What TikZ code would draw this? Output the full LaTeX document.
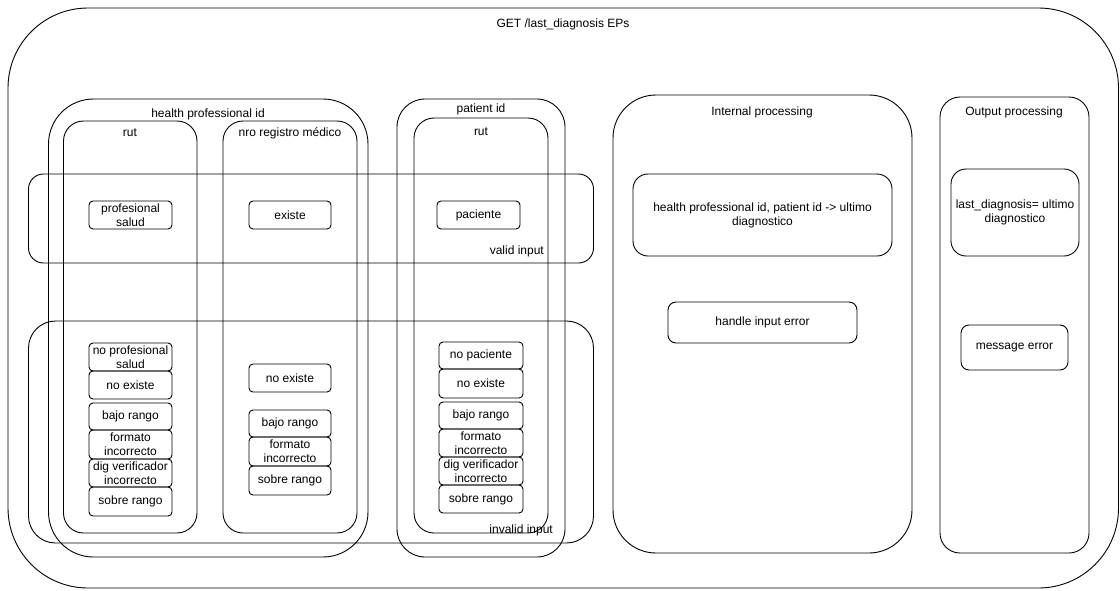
\documentclass[tikz,border=0pt]{standalone}
\usepackage{fontspec}
\setmainfont{Liberation Sans}
\newcommand\rbox[7]{%
  \node[box, rounded corners=#6, minimum width={#4-#2}, minimum height={#5-#3}] (#1) at ({(#2+#4)/2},{(#3+#5)/2}) {#7};}
\begin{document}
\begin{tikzpicture}[x=1pt,y=-1pt,
  every node/.style={font=\fontsize{12}{14}\selectfont, inner sep=0pt, align=center},
  box/.style={draw, line width=0.9pt},
  lbl/.style={}]
\useasboundingbox (0,0) rectangle (1120,590);
% outer
\rbox{outer}{8}{8}{1118.5}{588}{80}{}
\node[lbl] (title) at (563,24) {GET /last\_diagnosis EPs};
% health professional id
\rbox{hp}{48.5}{99}{368}{557}{45}{}
\node[lbl] (hpl) at (208,114) {health professional id};
\rbox{hprut}{63.5}{121}{197}{533}{20}{}
\node[lbl] (hprutl) at (130,133) {rut};
\rbox{nro}{223}{121}{357}{533}{20}{}
\node[lbl] (nrol) at (290,133) {nro registro médico};
% patient id
\rbox{pat}{397}{99}{565}{557}{28}{}
\node[lbl] (patl) at (481,109) {patient id};
\rbox{patrut}{414}{118}{548}{533}{20}{}
\node[lbl] (patrutl) at (481,132) {rut};
% valid / invalid input
\rbox{valid}{28.5}{174}{593.5}{263}{15}{}
\node[lbl, anchor=east] (validl) at (544,251) {valid input};
\rbox{invalid}{28.5}{321}{593.5}{543}{27}{}
\node[lbl, anchor=east] (invalidl) at (553,530) {invalid input};
% valid items
\rbox{ps}{89}{201}{172}{229}{4}{profesional\\salud}
\rbox{ex}{249}{201}{331}{229}{4}{existe}
\rbox{pac}{437}{201}{520}{229}{4}{paciente}
% hp rut invalid items
\rbox{a1}{89}{343}{172}{371}{4}{no profesional\\salud}
\rbox{a2}{89}{371}{172}{399}{4}{no existe}
\rbox{a3}{89}{403}{172}{430}{4}{bajo rango}
\rbox{a4}{89}{430}{172}{459}{4}{formato\\incorrecto}
\rbox{a5}{89}{459}{172}{487}{4}{dig verificador\\incorrecto}
\rbox{a6}{89}{487}{172}{516}{4}{sobre rango}
% nro invalid items
\rbox{b1}{249}{364}{331}{392}{4}{no existe}
\rbox{b2}{249}{410}{331}{437}{4}{bajo rango}
\rbox{b3}{249}{437}{331}{466}{4}{formato\\incorrecto}
\rbox{b4}{249}{466}{331}{495}{4}{sobre rango}
% patient invalid items
\rbox{c1}{439}{342}{523}{369}{4}{no paciente}
\rbox{c2}{439}{369}{523}{398}{4}{no existe}
\rbox{c3}{439}{402}{523}{429}{4}{bajo rango}
\rbox{c4}{439}{429}{523}{457}{4}{formato\\incorrecto}
\rbox{c5}{439}{457}{523}{485}{4}{dig verificador\\incorrecto}
\rbox{c6}{439}{485}{523}{513}{4}{sobre rango}
% internal processing
\rbox{ip}{613}{95}{912}{553}{43}{}
\node[lbl] (ipl) at (762,112) {Internal processing};
\rbox{ip1}{633}{174}{892}{256}{15}{health professional id, patient id -> ultimo\\diagnostico}
\rbox{ip2}{668}{302}{857}{343}{8}{handle input error}
% output processing
\rbox{op}{940}{97}{1089}{553}{20}{}
\node[lbl] (opl) at (1014,112) {Output processing};
\rbox{op1}{951}{169}{1079}{256}{15}{last\_diagnosis= ultimo\\diagnostico}
\rbox{op2}{961}{325}{1068}{370}{8}{message error}
\end{tikzpicture}
\end{document}
